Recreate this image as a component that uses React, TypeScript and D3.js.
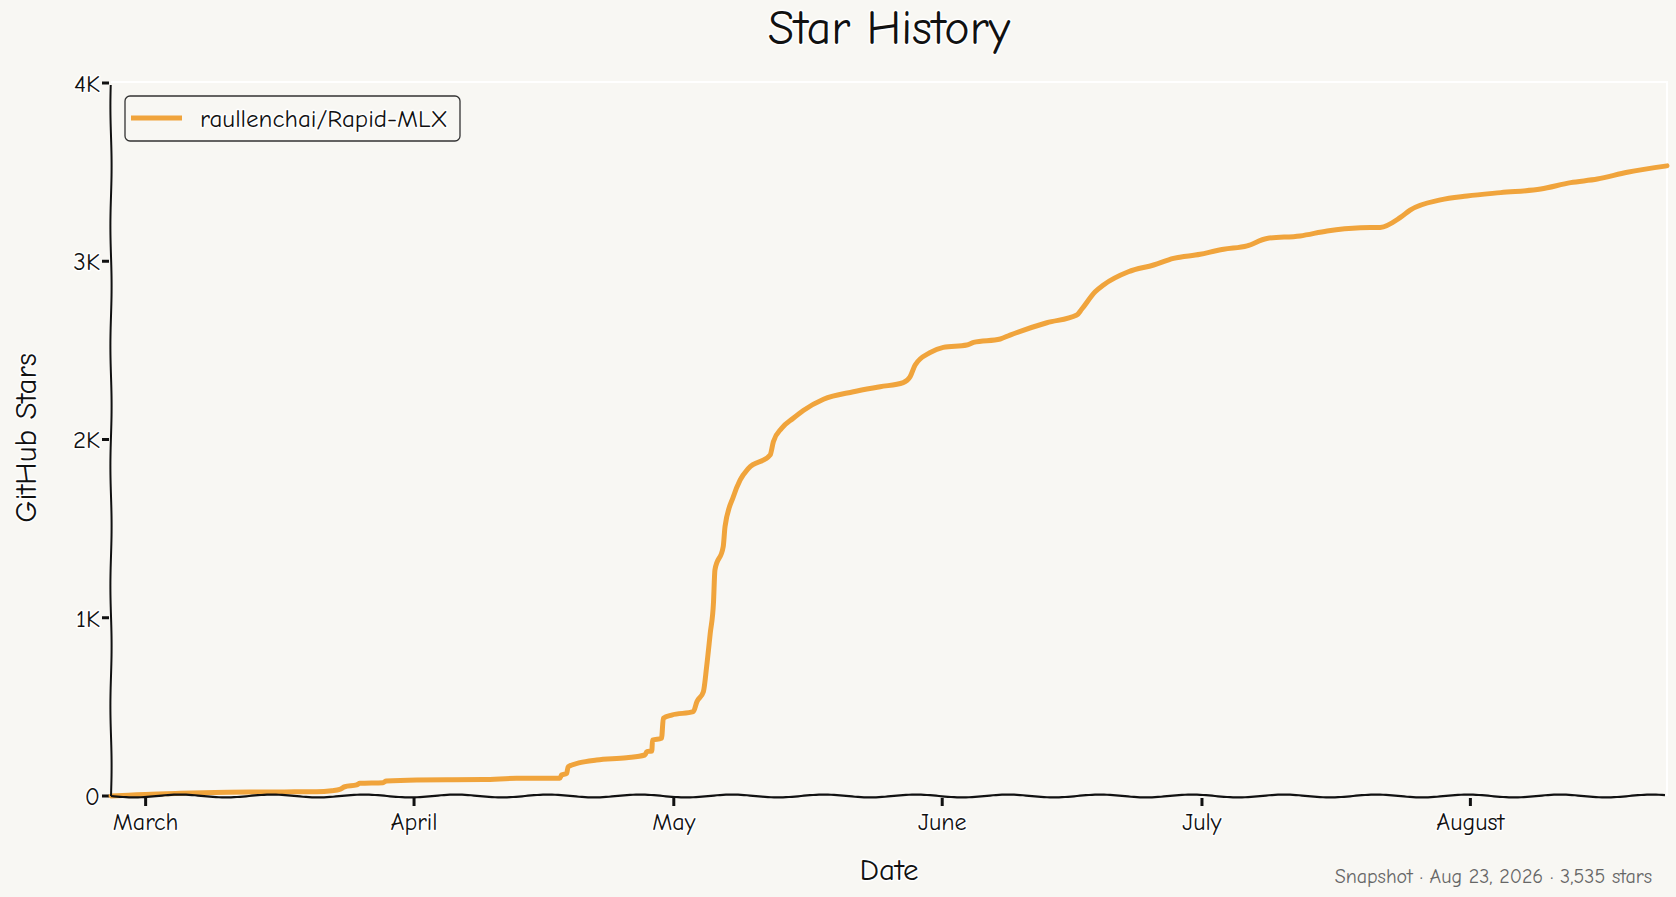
import React from "react";
import * as d3 from "d3";

const W = 1676;
const H = 897;

const TITLE = "Star History";
const SERIES_NAME = "raullenchai/Rapid-MLX";
const X_LABEL = "Date";
const Y_LABEL = "GitHub Stars";
const SNAPSHOT = "Snapshot · Aug 23, 2026 · 3,535 stars";

const dates: string[] = [
  "2026-02-25T00", "2026-02-27T00", "2026-03-01T00", "2026-03-05T00", "2026-03-09T00",
  "2026-03-13T00", "2026-03-17T00", "2026-03-20T17", "2026-03-22T12", "2026-03-23T10",
  "2026-03-24T00", "2026-03-25T09", "2026-03-25T18", "2026-03-28T10", "2026-03-28T19",
  "2026-04-01T07", "2026-04-09T00", "2026-04-12T20", "2026-04-17T20", "2026-04-18T01",
  "2026-04-18T15", "2026-04-18T19", "2026-04-20T04", "2026-04-22T02", "2026-04-25T13",
  "2026-04-27T16", "2026-04-27T21", "2026-04-28T11", "2026-04-28T13", "2026-04-29T14",
  "2026-04-29T19", "2026-04-30T18", "2026-05-03T06", "2026-05-03T16", "2026-05-04T10",
  "2026-05-04T19", "2026-05-05T05", "2026-05-05T14", "2026-05-05T18", "2026-05-06T17",
  "2026-05-06T22", "2026-05-07T21", "2026-05-08T16", "2026-05-09T15", "2026-05-12T03",
  "2026-05-12T12", "2026-05-13T11", "2026-05-14T19", "2026-05-15T23", "2026-05-18T07",
  "2026-05-21T18", "2026-05-24T20", "2026-05-27T12", "2026-05-28T07", "2026-05-28T21",
  "2026-05-30T14", "2026-06-01T03", "2026-06-03T20", "2026-06-04T15", "2026-06-07T17",
  "2026-06-08T20", "2026-06-13T02", "2026-06-16T13", "2026-06-17T03", "2026-06-18T16",
  "2026-06-19T15", "2026-06-22T12", "2026-06-25T10", "2026-06-27T17", "2026-06-30T19",
  "2026-07-02T18", "2026-07-03T12", "2026-07-06T05", "2026-07-08T12", "2026-07-12T08",
  "2026-07-15T11", "2026-07-19T07", "2026-07-21T14", "2026-07-23T22", "2026-07-25T01",
  "2026-07-28T13", "2026-07-31T15", "2026-08-04T12", "2026-08-09T03", "2026-08-12T14",
  "2026-08-15T16", "2026-08-19T03", "2026-08-23T17",
];

const stars: number[] = [
  0, 4, 9, 15, 19,
  22, 23, 24, 30, 37,
  52, 62, 71, 75, 84,
  90, 92, 99, 100, 118,
  127, 164, 187, 202, 215,
  230, 249, 252, 314, 324,
  436, 454, 473, 529, 585,
  725, 913, 1085, 1268, 1399,
  1511, 1679, 1773, 1838, 1913,
  1988, 2063, 2119, 2163, 2226,
  2268, 2296, 2319, 2352, 2418,
  2487, 2517, 2530, 2545, 2564,
  2586, 2655, 2698, 2732, 2829,
  2867, 2941, 2979, 3016, 3039,
  3060, 3067, 3086, 3128, 3142,
  3170, 3188, 3190, 3246, 3287,
  3344, 3366, 3385, 3405, 3441,
  3461, 3499, 3535,
];

const monthTicks: string[] = ["2026-03-01T00", "2026-04-01T00", "2026-05-01T00", "2026-06-01T00", "2026-07-01T00", "2026-08-01T00"];
const monthLabels: string[] = ["March", "April", "May", "June", "July", "August"];
const yTicks: number[] = [0, 1000, 2000, 3000, 4000];
const yTickLabels: string[] = ["0", "1K", "2K", "3K", "4K"];

const BG = "#f8f7f3";
const LINE = "#f0a43c";
const FONT = "'Comic Sans MS', 'Comic Neue', Lato, 'Noto Sans', sans-serif";

const parse = d3.timeParse("%Y-%m-%dT%H");

export default function App() {
  const L = 111, R = 1667, T = 83, B = 796;
  const pts = dates.map((d, i) => ({ t: parse(d) as Date, v: stars[i] }));
  const x = d3.scaleTime().domain([pts[0].t, pts[pts.length - 1].t]).range([L, R]);
  const y = d3.scaleLinear().domain([0, 4000]).range([B, T]);
  const line = d3.line<{ t: Date; v: number }>().x((p) => x(p.t)).y((p) => y(p.v)).curve(d3.curveMonotoneX);

  // wavy hand-drawn axes
  const bottomAxis: [number, number][] = [];
  for (let px = L; px <= R; px += 3) bottomAxis.push([px, B + 1.4 * Math.sin(((px - L) / 92) * 2 * Math.PI)]);
  const leftAxis: [number, number][] = [];
  for (let py = B; py >= T; py -= 3) leftAxis.push([L + 0.6 * Math.sin(((B - py) / 120) * 2 * Math.PI), py]);
  const poly = d3.line();

  const halo = { paintOrder: "stroke" as const, stroke: "#fff", strokeWidth: 3, strokeLinejoin: "round" as const };

  return (
    <svg width={W} height={H} style={{ position: "absolute", left: 0, top: 0, background: BG }} fontFamily={FONT}>
      <rect x={0} y={0} width={W} height={H} fill={BG} />
      {/* plot frame top/right */}
      <path d={`M${L},${T - 1}H${R}V${B}`} fill="none" stroke="#fff" strokeWidth={2} />
      <text x={889} y={44} textAnchor="middle" fontSize={48} fill="#111" style={halo}>{TITLE}</text>

      {/* y ticks */}
      {yTicks.map((t, i) => (
        <g key={t}>
          <line x1={L - 9} x2={L - 2} y1={y(t)} y2={y(t)} stroke="#111" strokeWidth={3} />
          <text x={L - 11} y={y(t)} dy="0.35em" textAnchor="end" fontSize={25} fill="#111" style={halo}>{yTickLabels[i]}</text>
        </g>
      ))}
      {/* x ticks */}
      {monthTicks.map((m, i) => {
        const px = x(parse(m) as Date);
        return (
          <g key={m}>
            <line x1={px} x2={px} y1={B + 2} y2={B + 10} stroke="#111" strokeWidth={3} />
            <text x={px} y={830} textAnchor="middle" fontSize={24} fill="#111" style={halo}>{monthLabels[i]}</text>
          </g>
        );
      })}

      <path d={line(pts) || ""} fill="none" stroke={LINE} strokeWidth={5} strokeLinejoin="round" strokeLinecap="round" />

      <path d={poly(leftAxis) || ""} fill="none" stroke="#111" strokeWidth={2} />
      <path d={poly(bottomAxis) || ""} fill="none" stroke="#111" strokeWidth={2.2} />

      <text x={889} y={880} textAnchor="middle" fontSize={31} fill="#111" style={halo}>{X_LABEL}</text>
      <text transform={`translate(36,438) rotate(-90)`} textAnchor="middle" fontSize={31} fill="#111" style={halo}>{Y_LABEL}</text>
      <text x={1652} y={883} textAnchor="end" fontSize={20} fill="#666">{SNAPSHOT}</text>

      {/* legend */}
      <rect x={125} y={96} width={335} height={45} rx={5} fill={BG} stroke="#333" strokeWidth={1.3} />
      <line x1={131} x2={182} y1={118} y2={118} stroke={LINE} strokeWidth={5} />
      <text x={200} y={118} dy="0.35em" fontSize={25} fill="#111" style={halo}>{SERIES_NAME}</text>
    </svg>
  );
}
